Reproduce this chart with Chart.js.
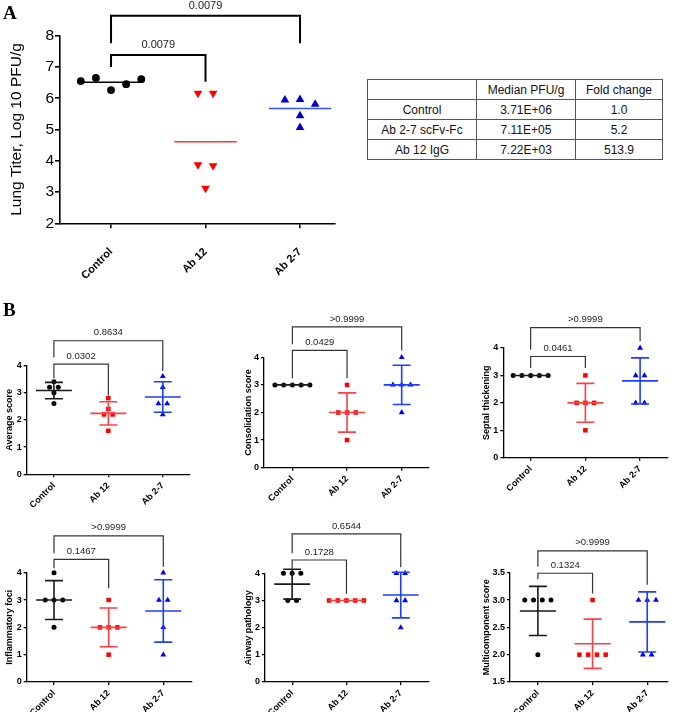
<!DOCTYPE html>
<html><head><meta charset="utf-8">
<script src="https://cdn.jsdelivr.net/npm/chart.js@4.4.0/dist/chart.umd.min.js"></script>
<style>
html,body{margin:0;padding:0;background:#fff;}
body{width:675px;height:712px;position:relative;overflow:hidden;font-family:"Liberation Sans",Arial,Helvetica,sans-serif;}
canvas{position:absolute;}
.plabel{position:absolute;font-family:"Liberation Serif","Times New Roman",serif;font-weight:bold;font-size:19px;z-index:5;line-height:1;}
table{position:absolute;left:367px;top:79px;border-collapse:collapse;font-size:12px;color:#111;z-index:4;}
td{border:1px solid #555;text-align:center;height:19px;padding:0;}
</style></head><body>
<div class="plabel" style="left:3px;top:3px">A</div>
<div class="plabel" style="left:3px;top:300px">B</div>
<table id="tbl"></table>
<script>
// ---------- data ----------
const groups = ['Control', 'Ab 12', 'Ab 2-7'];

const titerControl = [6.55, 6.65, 6.26, 6.45, 6.61];
const titerAb12 = [6.16, 6.16, 3.87, 3.84, 3.12];
const titerAb27 = [5.94, 5.96, 5.81, 5.44, 5.06];
const titerMean = [6.51, 4.61, 5.67];
const titerP = ['0.0079', '0.0079'];

const tableHeader = ['', 'Median PFU/g', 'Fold change'];
const tableGroups = ['Control', 'Ab 2-7 scFv-Fc', 'Ab 12 IgG'];
const tableMedian = ['3.71E+06', '7.11E+05', '7.22E+03'];
const tableFold = ['1.0', '5.2', '513.9'];

const averageScore = [[3.4, 3.2, 3.2, 3.0, 2.6], [2.8, 2.4, 2.2, 2.2, 1.6], [3.6, 3.2, 2.6, 2.6, 2.2]];
const averageMean = [3.08, 2.24, 2.84];
const averageSD = [0.30, 0.43, 0.56];
const averageP = ['0.0302', '0.8634'];

const consolidationScore = [[3, 3, 3, 3, 3], [3, 2, 2, 2, 1], [4, 3, 3, 3, 2]];
const consolidationMean = [3, 2, 3];
const consolidationSD = [0, 0.71, 0.71];
const consolidationP = ['0.0429', '>0.9999'];

const septalThickening = [[3, 3, 3, 3, 3], [3, 2, 2, 2, 1], [4, 3, 3, 2, 2]];
const septalMean = [3, 2, 2.8];
const septalSD = [0, 0.71, 0.84];
const septalP = ['0.0461', '>0.9999'];

const inflammatoryFoci = [[4, 3, 3, 3, 2], [3, 2, 2, 2, 1], [4, 3, 3, 2, 1]];
const inflammatoryMean = [3, 2, 2.6];
const inflammatorySD = [0.71, 0.71, 1.14];
const inflammatoryP = ['0.1467', '>0.9999'];

const airwayPathology = [[4, 4, 4, 3, 3], [3, 3, 3, 3, 3], [4, 4, 3, 3, 2]];
const airwayMean = [3.6, 3, 3.2];
const airwaySD = [0.55, 0, 0.84];
const airwayP = ['0.1728', '0.6544'];

const multiScore = [[3, 3, 3, 3, 2], [3, 2, 2, 2, 2], [3, 3, 3, 2, 2]];
const multiMean = [2.8, 2.2, 2.6];
const multiSD = [0.45, 0.45, 0.55];
const multiP = ['0.1324', '>0.9999'];

// ---------- table ----------
(function () {
  const t = document.getElementById('tbl');
  const widths = [108, 98, 86];
  const rows = [tableHeader].concat(tableGroups.map((g, i) => [g, tableMedian[i], tableFold[i]]));
  rows.forEach(r => {
    const tr = document.createElement('tr');
    r.forEach((c, j) => {
      const td = document.createElement('td');
      td.textContent = c; td.style.width = widths[j] + 'px';
      tr.appendChild(td);
    });
    t.appendChild(tr);
  });
})();

// ---------- helpers ----------
function spread(vals, idx, bin, step) {
  const keys = vals.map(v => Math.round(v / bin));
  return vals.map((v, k) => {
    const same = [];
    keys.forEach((kk, i) => { if (kk === keys[k]) same.push(i); });
    const pos = same.indexOf(k);
    return { x: idx + (pos - (same.length - 1) / 2) * step, y: v };
  });
}

const FONT = '"Liberation Sans", Arial, Helvetica, sans-serif';

function makeChart(c) {
  const cv = document.createElement('canvas');
  cv.width = c.w; cv.height = c.h;
  cv.style.left = c.left + 'px'; cv.style.top = c.top + 'px';
  cv.style.width = c.w + 'px'; cv.style.height = c.h + 'px';
  document.body.appendChild(cv);
  const padTop = c.T - c.top, yW = c.L - c.left, padRight = c.left + c.w - c.R, xH = c.top + c.h - c.B;
  const lh = c.titleSize * 1.2;
  const datasets = c.series.map((vals, i) => ({
    data: spread(vals, i, c.bin, 0.16),
    pointStyle: c.styles[i],
    rotation: c.rots[i],
    pointRadius: c.radii[i],
    backgroundColor: c.colors[i],
    borderColor: c.colors[i],
    borderWidth: 0,
    clip: false
  }));
  const overlay = {
    id: 'overlay' + Math.random(),
    afterDatasetsDraw(chart) {
      const ctx = chart.ctx, xs = chart.scales.x, ys = chart.scales.y;
      ctx.save();
      c.means.forEach((m, i) => {
        ctx.strokeStyle = c.barColors[i];
        ctx.lineWidth = c.barW;
        ctx.beginPath();
        const ym = ys.getPixelForValue(m);
        ctx.moveTo(xs.getPixelForValue(i - 0.33), ym);
        ctx.lineTo(xs.getPixelForValue(i + 0.33), ym);
        if (c.sds && c.sds[i] > 0) {
          const yt = ys.getPixelForValue(m + c.sds[i]);
          const yb = ys.getPixelForValue(m - c.sds[i]);
          const xc = xs.getPixelForValue(i);
          ctx.moveTo(xc, yt); ctx.lineTo(xc, yb);
          ctx.moveTo(xs.getPixelForValue(i - 0.165), yt); ctx.lineTo(xs.getPixelForValue(i + 0.165), yt);
          ctx.moveTo(xs.getPixelForValue(i - 0.165), yb); ctx.lineTo(xs.getPixelForValue(i + 0.165), yb);
        }
        ctx.stroke();
      });
      ctx.strokeStyle = c.brColor; ctx.lineWidth = c.brW; ctx.lineJoin = 'miter';
      ctx.fillStyle = '#222'; ctx.font = c.pSize + 'px ' + FONT;
      ctx.textAlign = 'center'; ctx.textBaseline = 'middle';
      c.brackets.forEach((b, k) => {
        const x1 = xs.getPixelForValue(b.a), x2 = xs.getPixelForValue(b.b);
        const yt = ys.getPixelForValue(b.top);
        ctx.beginPath();
        ctx.moveTo(x1, ys.getPixelForValue(b.la));
        ctx.lineTo(x1, yt); ctx.lineTo(x2, yt);
        ctx.lineTo(x2, ys.getPixelForValue(b.lb));
        ctx.stroke();
        ctx.fillText(c.pvals[k], (x1 + x2) / 2, yt - c.pGap);
      });
      ctx.restore();
    }
  };
  new Chart(cv, {
    type: 'scatter',
    data: { datasets },
    options: {
      responsive: false, animation: false, events: [],
      layout: { padding: { top: padTop, right: padRight, left: 0, bottom: 0 } },
      plugins: { legend: { display: false }, tooltip: { enabled: false } },
      scales: {
        x: {
          type: 'linear', min: c.xmin, max: c.xmax,
          afterBuildTicks: s => { s.ticks = [0, 1, 2].map(v => ({ value: v })); },
          afterFit: s => { s.height = xH; },
          ticks: {
            autoSkip: false, minRotation: 45, maxRotation: 45, color: '#000',
            padding: c.xPad, font: { family: FONT, size: c.xSize, weight: 'bold' },
            callback: v => groups[Math.round(v)]
          },
          grid: { display: true, drawOnChartArea: false, drawTicks: true, tickLength: c.tick, color: '#000', lineWidth: c.axisW },
          border: { display: true, color: '#000', width: c.axisW }
        },
        y: {
          type: 'linear', min: c.ymin, max: c.ymax,
          afterFit: s => { s.width = yW; },
          ticks: {
            stepSize: c.ystep, color: '#000', padding: c.yPad,
            font: { family: FONT, size: c.ySize, weight: c.yWeight },
            callback: v => c.decimals ? v.toFixed(c.decimals) : v
          },
          grid: { display: true, drawOnChartArea: false, drawTicks: true, tickLength: c.tick, color: '#000', lineWidth: c.axisW },
          border: { display: true, color: '#000', width: c.axisW },
          title: {
            display: true, text: c.title, color: '#000',
            font: { family: FONT, size: c.titleSize, weight: c.titleWeight },
            padding: { top: c.titleX - lh / 2, bottom: 0 }
          }
        }
      }
    },
    plugins: [overlay]
  });
}

// ---------- panel A ----------
makeChart({
  left: 0, top: 0, w: 345, h: 300, L: 60, R: 335, T: 35.7, B: 223.3,
  xmin: -0.54, xmax: 2.37, ymin: 2, ymax: 8, ystep: 1,
  series: [titerControl, titerAb12, titerAb27], bin: 0.5,
  styles: ['circle', 'triangle', 'triangle'], rots: [0, 180, 0], radii: [3.9, 5, 5],
  colors: ['#000000', '#ff0000', '#0000cc'],
  means: titerMean, sds: null, barColors: ['#000000', '#ff3030', '#3355ff'], barW: 1.6,
  brackets: [{ a: 0, b: 1, top: 7.38, la: 7.0, lb: 6.53 }, { a: 0, b: 2, top: 8.64, la: 7.76, lb: 7.76 }],
  pvals: titerP, pSize: 11, pGap: 10, brColor: '#000', brW: 2,
  xPad: 17, xSize: 11, tick: 5, axisW: 1.6, yPad: 1, ySize: 15.5, yWeight: 'normal',
  title: 'Lung Titer, Log 10 PFU/g', titleSize: 15.5, titleWeight: 'normal', titleX: 16.7
});

// ---------- panel B ----------
const bCommon = {
  bin: 0.01, styles: ['circle', 'rect', 'triangle'], rots: [0, 0, 0], radii: [2.5, 3.2, 3.4],
  colors: ['#000000', '#ff0000', '#0000ff'], barColors: ['#1a1a1a', '#ff4040', '#1f3dff'], barW: 1.6,
  pSize: 9.5, pGap: 8, brColor: '#333', brW: 1.2,
  xPad: 3, xSize: 9, tick: 3, axisW: 1.3, yPad: 2, ySize: 9, yWeight: 'bold',
  titleSize: 9, titleWeight: 'bold', ystep: 1, ymin: 0, ymax: 4
};
const row1 = 310, row1h = 205, row2 = 515, row2h = 197;

makeChart(Object.assign({}, bCommon, {
  left: 0, top: row1, w: 225, h: row1h, L: 26.7, R: 190, T: 365.5, B: 474.3, xmin: -0.5, xmax: 2.5,
  series: averageScore, means: averageMean, sds: averageSD, pvals: averageP,
  brackets: [{ a: 0, b: 1, top: 4.05, la: 3.53, lb: 2.9 }, { a: 0, b: 2, top: 4.91, la: 4.29, lb: 3.8 }],
  title: 'Average score', titleX: 10
}));
makeChart(Object.assign({}, bCommon, {
  left: 225, top: row1, w: 225, h: row1h, L: 264, R: 429, T: 357.3, B: 467.7, xmin: -0.52, xmax: 2.5,
  series: consolidationScore, means: consolidationMean, sds: consolidationSD, pvals: consolidationP,
  brackets: [{ a: 0, b: 1, top: 4.25, la: 3.24, lb: 3.24 }, { a: 0, b: 2, top: 5.1, la: 4.47, lb: 4.25 }],
  title: 'Consolidation score', titleX: 23.5
}));
makeChart(Object.assign({}, bCommon, {
  left: 450, top: row1, w: 225, h: row1h, L: 503.3, R: 668, T: 348, B: 457.7, xmin: -0.5, xmax: 2.51,
  series: septalThickening, means: septalMean, sds: septalSD, pvals: septalP,
  brackets: [{ a: 0, b: 1, top: 3.69, la: 3.27, lb: 3.27 }, { a: 0, b: 2, top: 4.74, la: 3.94, lb: 4.25 }],
  title: 'Septal thickening', titleX: 36.7
}));
makeChart(Object.assign({}, bCommon, {
  left: 0, top: row2, w: 225, h: row2h, L: 26.7, R: 191.7, T: 572.7, B: 682, xmin: -0.5, xmax: 2.52,
  series: inflammatoryFoci, means: inflammatoryMean, sds: inflammatorySD, pvals: inflammatoryP,
  brackets: [{ a: 0, b: 1, top: 4.49, la: 4.16, lb: 3.43 }, { a: 0, b: 2, top: 5.35, la: 4.71, lb: 4.22 }],
  title: 'Inflammatory foci', titleX: 10
}));
makeChart(Object.assign({}, bCommon, {
  left: 225, top: row2, w: 225, h: row2h, L: 265, R: 429, T: 573.3, B: 682, xmin: -0.5, xmax: 2.52,
  series: airwayPathology, means: airwayMean, sds: airwaySD, pvals: airwayP,
  brackets: [{ a: 0, b: 1, top: 4.49, la: 4.13, lb: 3.25 }, { a: 0, b: 2, top: 5.45, la: 4.74, lb: 4.22 }],
  title: 'Airway pathology', titleX: 23.3
}));
makeChart(Object.assign({}, bCommon, {
  left: 450, top: row2, w: 225, h: row2h, L: 510, R: 668, T: 572.7, B: 682, xmin: -0.51, xmax: 2.38,
  ymin: 1.5, ymax: 3.5, ystep: 0.5, decimals: 1,
  series: multiScore, means: multiMean, sds: multiSD, pvals: multiP,
  brackets: [{ a: 0, b: 1, top: 3.49, la: 3.38, lb: 3.12 }, { a: 0, b: 2, top: 3.90, la: 3.61, lb: 3.28 }],
  title: 'Multicomponent score', titleX: 36.7
}));
</script>
</body></html>
